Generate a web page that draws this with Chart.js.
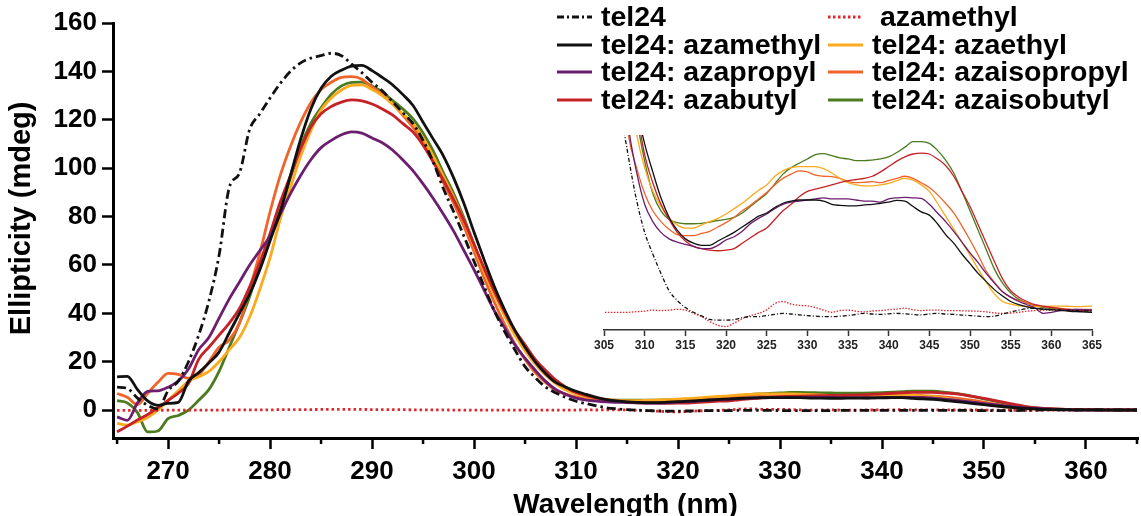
<!DOCTYPE html>
<html>
<head>
<meta charset="utf-8">
<script src="https://cdn.jsdelivr.net/npm/chart.js@4.4.1/dist/chart.umd.min.js"></script>
<style>
  html, body { margin: 0; padding: 0; background: #fff; }
  #wrap { position: relative; width: 1141px; height: 516px; }
  #wrap canvas { position: absolute; left: 0; top: 0; }
</style>
</head>
<body>
<div id="wrap">
  <canvas id="main" width="1141" height="516"></canvas>
  <canvas id="inset" width="1141" height="516"></canvas>
</div>
<script>
// wavelengths, 265..365 nm in 1 nm steps
const wavelengths = [];
for (let w = 265; w <= 365; w++) wavelengths.push(w);

// CD signal (mdeg), one value per nm
const tel24 = [
  9.5, 9, 5, 2, 0.5, 8, 12, 20, 31, 45,
  64, 92, 98, 116, 122.5, 129, 135, 140, 143.5, 145.5,
  146.5, 147.5, 146.5, 143, 139.5, 135.5, 132, 127.5, 123, 118.5,
  111.5, 102.5, 91.5, 82, 72, 61.5, 51, 41, 32.5, 25,
  18, 13.5, 9.6, 7.2, 5.2, 3.7, 2.7, 1.8, 1.0, 0.55,
  0.22, 0, -0.17, -0.33, -0.36, -0.36, -0.34, -0.25, -0.2, -0.2,
  -0.15, -0.1, -0.05, -0.08, -0.12, -0.15, -0.18, -0.2, -0.2, -0.18,
  -0.15, -0.1, -0.05, -0.08, -0.1, -0.07, -0.05, -0.07, -0.1, -0.12,
  -0.08, -0.05, -0.08, -0.1, -0.13, -0.15, -0.18, -0.2, -0.18, -0.08,
  0.02, 0.1, 0.17, 0.18, 0.15, 0.12, 0.1, 0.1, 0.08, 0.07,
  0.07
];
const azamethyl = [
  -0.1, -0.1, -0.1, -0.05, -0.05, 0, 0, 0, 0.05, 0.05,
  0.05, 0.1, 0.1, 0.1, 0.15, 0.15, 0.2, 0.2, 0.25, 0.25,
  0.3, 0.3, 0.3, 0.3, 0.3, 0.25, 0.25, 0.2, 0.2, 0.15,
  0.15, 0.1, 0.1, 0.05, 0.05, 0.05, 0, 0, 0, 0,
  0, 0, 0, 0, 0.03, 0.05, 0.1, 0.08, 0.1, 0.14,
  0.1, -0.05, -0.2, -0.43, -0.6, -0.66, -0.5, -0.3, -0.15, -0.05,
  0.11, 0.4, 0.5, 0.38, 0.32, 0.3, 0.22, 0.1, 0, 0.08,
  0.1, 0.05, 0.02, 0.06, 0.08, 0.12, 0.15, 0.19, 0.12, 0.08,
  0.1, 0.1, 0.08, 0.08, 0.07, 0.06, 0.05, 0.02, -0.03, -0.05,
  -0.04, 0, 0.05, 0.08, 0.1, 0.1, 0.1, 0.1, 0.08, 0.08,
  0.1
];
const telAzamethyl = [
  13.8, 14, 8.5, 3.8, 2, 2.8, 3.2, 12, 15.5, 19.5,
  24, 32, 40, 48, 58, 70, 82, 97, 112, 124.5,
  133, 138, 140.5, 142.2, 142.5, 140.3, 137.5, 134.5, 130.5, 126,
  119, 112, 105, 96, 85.5, 73.5, 62, 51, 41.5, 33,
  26, 20, 15.2, 11.5, 9.5, 7.8, 6.5, 5.3, 4.4, 3.8,
  3.4, 3.2, 3.1, 3.1, 3.3, 3.5, 3.7, 3.95, 4.2, 4.45,
  4.6, 4.85, 5.05, 5.15, 5.2, 5.2, 5.2, 5.15, 5.0, 4.95,
  4.93, 4.93, 4.97, 5.0, 5.05, 5.1, 5.18, 5.15, 4.9, 4.65,
  4.5, 4.1, 3.6, 3.2, 2.7, 2.25, 1.8, 1.42, 1.05, 0.75,
  0.5, 0.35, 0.25, 0.18, 0.15, 0.12, 0.1, 0.06, 0.03, 0.02,
  0
];
const telAzapropyl = [
  -2.8, -4.2, 3, 7.8, 8, 9.5, 12, 17, 25, 30,
  38, 46, 53, 60, 66, 72, 81, 89.5, 97, 103.5,
  108.5, 111.5, 113.8, 115, 114.5, 112.5, 110.5, 107.5, 103.5, 99,
  93.5, 87.5, 81, 74, 66, 58, 49.5, 41, 34, 27,
  21.5, 16.5, 12, 8.6, 6.5, 5.0, 4.2, 3.7, 3.4, 3.25,
  3.15, 3.05, 2.95, 2.95, 3.1, 3.35, 3.5, 3.75, 4.1, 4.35,
  4.55, 4.8, 5.0, 5.1, 5.15, 5.2, 5.25, 5.3, 5.25, 5.25,
  5.25, 5.2, 5.15, 5.15, 5.1, 5.25, 5.3, 5.32, 5.3, 5.27,
  5.0, 4.6, 4.2, 3.75, 3.25, 2.75, 2.3, 1.8, 1.35, 0.95,
  0.7, 0.5, 0.35, 0.2, -0.05, 0.0, 0.07, 0.1, 0.13, 0.12,
  0.1
];
const telAzabutyl = [
  -9, -6.6, -4, -1.8, 1, 4, 7, 11, 21, 26,
  31, 36, 42, 51, 61, 73, 86, 97, 108, 117,
  122.5, 125.5, 127.3, 128.2, 127.8, 126.5, 124.5, 122, 118.5, 115,
  109.5, 102.5, 95, 87, 78.5, 68.5, 58.5, 49, 40.5, 33,
  27, 21, 16.5, 12.5, 9.5, 7.3, 6.0, 5.0, 4.3, 3.7,
  3.3, 3.05, 2.95, 2.88, 2.85, 2.88, 2.95, 3.2, 3.45, 3.7,
  3.9, 4.3, 4.7, 5.0, 5.35, 5.6, 5.7, 5.8, 5.9, 6.0,
  6.1, 6.15, 6.2, 6.3, 6.5, 6.75, 7.0, 7.2, 7.33, 7.37,
  7.33, 7.1, 6.8, 6.3, 5.6, 4.9, 4.05, 3.2, 2.35, 1.55,
  1.0, 0.7, 0.5, 0.35, 0.28, 0.23, 0.18, 0.13, 0.1, 0.08,
  0.07
];
const telAzaethyl = [
  -5.5, -6.2, -4.8, -3, 0, 4, 8, 12, 13.8, 16,
  20, 25, 30, 38.5, 50, 63, 79, 92, 105, 115.5,
  124, 129, 132.3, 134.2, 134.4, 132.5, 130, 126.5, 122.5, 118.5,
  112.5, 105, 96.5, 88, 78.5, 68, 57, 47.5, 39, 31,
  24.5, 19, 14.5, 11, 8.3, 6.7, 5.6, 4.9, 4.35, 4.05,
  3.9, 3.9, 4.05, 4.2, 4.35, 4.55, 4.8, 5.05, 5.35, 5.65,
  5.9, 6.3, 6.55, 6.7, 6.75, 6.75, 6.75, 6.65, 6.45, 6.2,
  6.0, 5.9, 5.85, 5.85, 5.9, 5.97, 6.1, 6.2, 6.12, 5.9,
  5.6, 5.05, 4.45, 3.85, 3.25, 2.65, 2.0, 1.4, 0.85, 0.5,
  0.38, 0.3, 0.27, 0.26, 0.27, 0.28, 0.29, 0.28, 0.26, 0.27,
  0.29
];
const telAzaisopropyl = [
  6.9, 5.3, 2.3, 7, 11.5, 15.2, 14.8, 13.2, 14.5, 20,
  26, 29, 36, 50, 65, 82, 97, 109, 119, 127,
  132.5, 135.5, 137.5, 137.8, 136.8, 133.5, 130.5, 126.5, 122, 117,
  111, 103.5, 94, 85.5, 76, 65.5, 54.5, 44.5, 35.5, 27.5,
  21, 15.5, 11.5, 8.2, 6.7, 5.5, 4.7, 4.2, 3.85, 3.6,
  3.55, 3.55, 3.65, 3.75, 3.95, 4.15, 4.4, 4.7, 4.95, 5.25,
  5.55, 5.9, 6.2, 6.4, 6.55, 6.5, 6.35, 6.3, 6.28, 6.2,
  6.05, 6.0, 6.02, 6.05, 6.0, 6.1, 6.2, 6.3, 6.2, 6.0,
  5.78, 5.45, 5.05, 4.6, 4.0, 3.35, 2.65, 1.9, 1.4, 0.95,
  0.7, 0.55, 0.42, 0.32, 0.26, 0.22, 0.18, 0.15, 0.13, 0.13,
  0.13
];
const telAzaisobutyl = [
  3.9, 3, -1, -9, -8.6, -3.5, -2.2, 0, 4.1, 8.5,
  16, 26, 36, 47, 60, 72, 82.5, 96, 109, 118.5,
  125, 130.5, 134, 135.5, 135.6, 134, 131.5, 128, 124.5, 120.5,
  114.5, 107, 98, 89.5, 79.5, 68.5, 58, 48.5, 40, 32,
  25, 19.5, 15, 11.5, 9, 7, 5.5, 4.7, 4.3, 4.15,
  4.1, 4.1, 4.12, 4.18, 4.25, 4.3, 4.4, 4.6, 4.9, 5.2,
  5.5, 5.95, 6.4, 6.7, 6.9, 7.1, 7.3, 7.35, 7.25, 7.15,
  7.1, 7.02, 7.02, 7.05, 7.1, 7.2, 7.4, 7.65, 7.9, 7.9,
  7.82, 7.5, 7.05, 6.45, 5.6, 4.7, 3.8, 2.9, 2.0, 1.35,
  0.9, 0.6, 0.42, 0.3, 0.22, 0.18, 0.14, 0.11, 0.07, 0.03,
  0
];

// axis ticks
const xMajorTicks = [270, 280, 290, 300, 310, 320, 330, 340, 350, 360];
const xMinorTicks = [265, 275, 285, 295, 305, 315, 325, 335, 345, 355, 365];
const yTicks = [0, 20, 40, 60, 80, 100, 120, 140, 160];

const FONT = '"Liberation Sans", Arial, sans-serif';

// label, values, colour, dash (main), dash (inset)
const series = [
  { label: 'tel24', values: tel24, color: '#111111', dash: [9, 4, 2.5, 4], insetDash: [4, 2, 1, 2] },
  { label: 'tel24: azamethyl', values: telAzamethyl, color: '#111111' },
  { label: 'tel24: azapropyl', values: telAzapropyl, color: '#6b1d6e' },
  { label: 'tel24: azabutyl', values: telAzabutyl, color: '#c62127' },
  { label: ' azamethyl', values: azamethyl, color: '#e0262b', dash: [2.5, 3], insetDash: [1.5, 1.5] },
  { label: 'tel24: azaethyl', values: telAzaethyl, color: '#fbaa1e' },
  { label: 'tel24: azaisopropyl', values: telAzaisopropyl, color: '#f0642a' },
  { label: 'tel24: azaisobutyl', values: telAzaisobutyl, color: '#4b7a1f' }
];

function makeDatasets(width, inset) {
  return series.map(s => ({
    label: s.label,
    data: wavelengths.map((w, i) => ({ x: w, y: s.values[i] })),
    borderColor: s.color,
    borderWidth: width,
    borderDash: (inset ? s.insetDash : s.dash) || [],
    pointRadius: 0,
    fill: false,
    cubicInterpolationMode: 'monotone'
  }));
}

// short ticks at the odd multiples of 5
const minorTicks = {
  id: 'minorTicks',
  afterDraw(chart) {
    const { ctx } = chart;
    const x = chart.scales.x;
    ctx.save();
    ctx.strokeStyle = '#000';
    ctx.lineWidth = 2.5;
    xMinorTicks.forEach(v => {
      const px = x.getPixelForValue(v);
      ctx.beginPath();
      ctx.moveTo(px, x.top);
      ctx.lineTo(px, x.top + 6);
      ctx.stroke();
    });
    ctx.restore();
  }
};

// two-column legend in the top right corner
const twoColLegend = {
  id: 'twoColLegend',
  afterDraw(chart) {
    const { ctx } = chart;
    const cols = [557, 828];
    const rows = [17, 45, 72, 100];
    ctx.save();
    ctx.font = 'bold 28.5px ' + FONT;
    ctx.textBaseline = 'middle';
    ctx.textAlign = 'left';
    chart.data.datasets.forEach((ds, i) => {
      const x = cols[Math.floor(i / 4)];
      const y = rows[i % 4];
      ctx.strokeStyle = ds.borderColor;
      ctx.lineWidth = 3;
      ctx.setLineDash(ds.borderDash.length ? (i === 0 ? [7, 3, 2, 3] : [2.5, 2.5]) : []);
      ctx.beginPath();
      ctx.moveTo(x, y);
      ctx.lineTo(x + 35, y);
      ctx.stroke();
      ctx.setLineDash([]);
      ctx.fillStyle = '#000';
      ctx.fillText(ds.label, x + 44, y + 1);
    });
    ctx.restore();
  }
};

new Chart(document.getElementById('main'), {
  type: 'line',
  data: { datasets: makeDatasets(2.8, false) },
  options: {
    responsive: false,
    animation: false,
    events: [],
    layout: { padding: { top: 23, right: 3, left: 0, bottom: 0 } },
    plugins: { legend: { display: false }, tooltip: { enabled: false } },
    scales: {
      x: {
        type: 'linear',
        min: 264.6,
        max: 365.1,
        afterFit: s => { s.height = 78; },
        afterBuildTicks: s => { s.ticks = xMajorTicks.map(v => ({ value: v })); },
        ticks: { color: '#000', font: { family: FONT, size: 26, weight: 'bold' }, padding: 7, maxRotation: 0, autoSkip: false },
        grid: { drawOnChartArea: false, tickLength: 11, tickWidth: 2.5, tickColor: '#000' },
        border: { color: '#000', width: 3 },
        title: { display: true, text: 'Wavelength (nm)', color: '#000', font: { family: FONT, size: 28, weight: 'bold', lineHeight: 1 }, padding: { top: 0, bottom: -3 } }
      },
      y: {
        min: -11.5,
        max: 160,
        afterFit: s => { s.width = 113; },
        afterBuildTicks: s => { s.ticks = yTicks.map(v => ({ value: v })); },
        ticks: { color: '#000', font: { family: FONT, size: 26, weight: 'bold' }, padding: 5 },
        grid: { drawOnChartArea: false, tickLength: 11, tickWidth: 2.5, tickColor: '#000' },
        border: { color: '#000', width: 3 },
        title: { display: true, text: '   Ellipticity (mdeg)', color: '#000', font: { family: FONT, size: 29, weight: 'bold', lineHeight: 1 }, padding: { top: 7, bottom: 0 } }
      }
    }
  },
  plugins: [minorTicks, twoColLegend]
});

// zoomed inset of the 305-365 nm region
new Chart(document.getElementById('inset'), {
  type: 'line',
  data: { datasets: makeDatasets(1.3, true) },
  options: {
    responsive: false,
    animation: false,
    events: [],
    layout: { padding: { top: 135, right: 49, left: 604, bottom: 156 } },
    plugins: { legend: { display: false }, tooltip: { enabled: false } },
    scales: {
      x: {
        type: 'linear',
        min: 305,
        max: 365,
        afterFit: s => { s.height = 30; },
        ticks: { stepSize: 5, color: '#222', font: { family: FONT, size: 12, weight: 'bold' }, padding: 2, maxRotation: 0, autoSkip: false },
        grid: { drawOnChartArea: false, tickLength: 6, tickWidth: 1.5, tickColor: '#333' },
        border: { color: '#333', width: 1.5 }
      },
      y: { display: false, min: -0.82, max: 8.21 }
    }
  }
});
</script>
</body>
</html>
